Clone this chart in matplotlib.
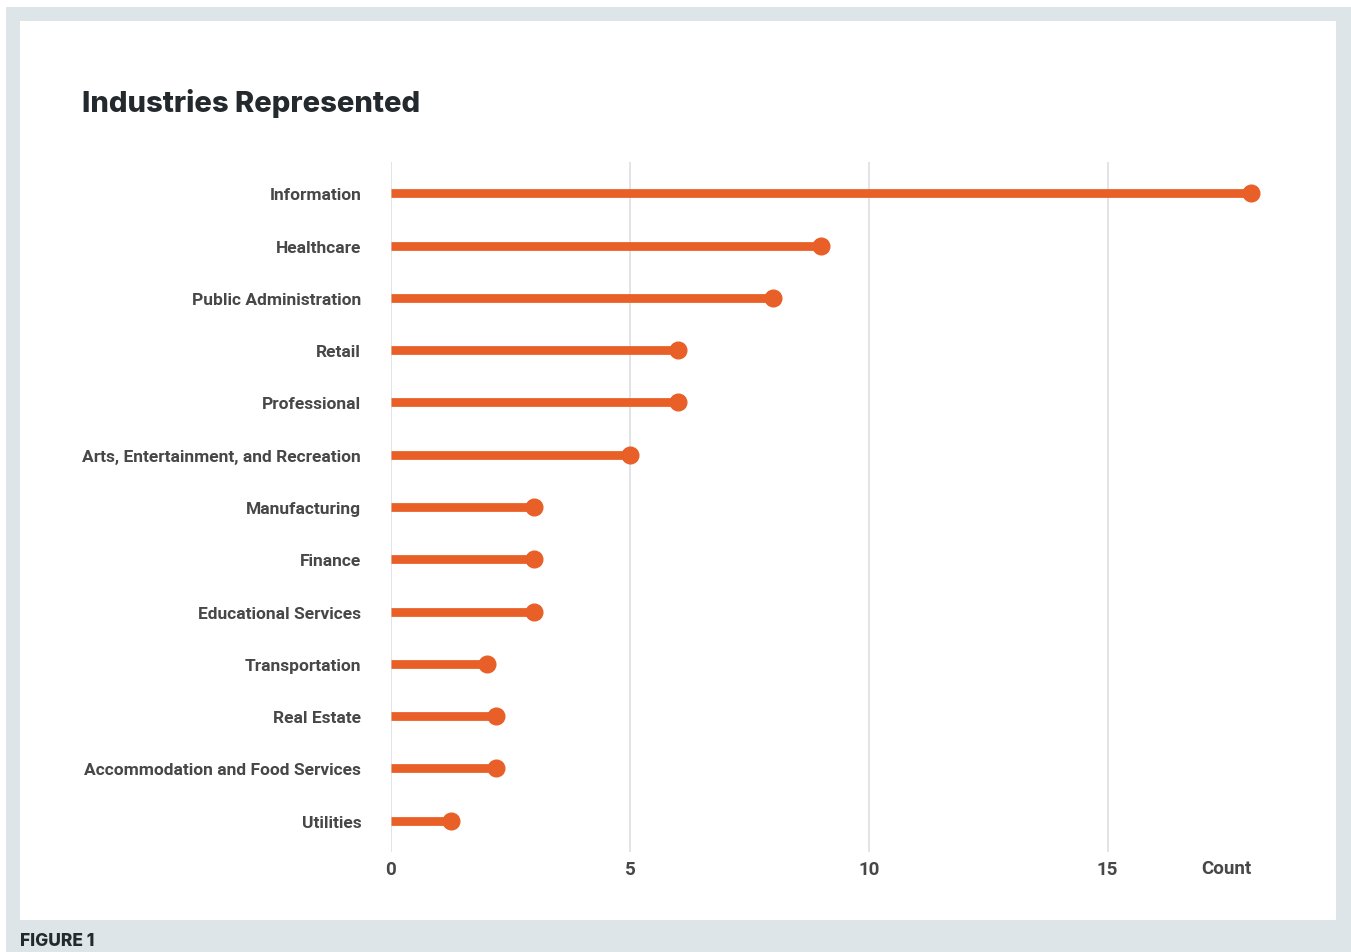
import matplotlib.pyplot as plt
from matplotlib.patches import Rectangle

industries = [
    'Information', 'Healthcare', 'Public Administration', 'Retail', 'Professional',
    'Arts, Entertainment, and Recreation', 'Manufacturing', 'Finance',
    'Educational Services', 'Transportation', 'Real Estate',
    'Accommodation and Food Services', 'Utilities',
]
counts = [18, 9, 8, 6, 6, 5, 3, 3, 3, 2, 2.2, 2.2, 1.25]
x_ticks = [0, 5, 10, 15]

W, H = 1351, 953
orange = '#e85f27'
frame = '#dee5e8'
label_col = '#474747'

fig = plt.figure(figsize=(W / 100, H / 100), dpi=100)
fig.patch.set_facecolor('white')

# outer grey frame and white panel, in pixel units
def px_rect(x0, y0, x1, y1, color):
    fig.patches.append(Rectangle((x0 / W, 1 - y1 / H), (x1 - x0) / W, (y1 - y0) / H,
                                 transform=fig.transFigure, facecolor=color,
                                 edgecolor='none', zorder=-10))

px_rect(6, 8, W, H, frame)
px_rect(20, 22, 1336, 921, 'white')

ax = fig.add_axes([391 / W, 1 - 853 / H, (1251 - 391) / W, (853 - 163) / H])
ax.set_facecolor('none')

y = list(range(len(industries)))
ax.hlines(y, 0, counts, color=orange, linewidth=6.3, zorder=3, clip_on=False)
ax.plot(counts, y, 'o', color=orange, markersize=12, zorder=4, clip_on=False)

ax.set_xlim(0, 18)
ax.set_ylim(len(industries) - 0.4, -0.6)
ax.set_xticks(x_ticks)
ax.set_yticks(y)
ax.set_yticklabels(industries)
ax.grid(axis='x', color='#dfe3e6', linewidth=1.3)
ax.set_axisbelow(True)
for s in ax.spines.values():
    s.set_visible(False)
ax.tick_params(length=0)
ax.tick_params(axis='y', pad=21.5)
ax.tick_params(axis='x', pad=6)
for lab in ax.get_yticklabels():
    lab.set_fontfamily('Roboto')
    lab.set_fontweight('bold')
    lab.set_fontsize(12.5)
    lab.set_color(label_col)
for lab in ax.get_xticklabels():
    lab.set_fontfamily('Roboto')
    lab.set_fontweight('bold')
    lab.set_fontsize(13.5)
    lab.set_color(label_col)

fig.text(1251 / W, 1 - 869 / H, 'Count', ha='right', va='center',
         fontfamily='Roboto', fontweight='bold', fontsize=13.5, color=label_col)

fig.text(82 / W, 1 - 103 / H, 'Industries Represented', ha='left', va='center',
         fontfamily='Inter', fontweight='heavy', fontsize=21, color='#23292c')
fig.text(20 / W, 1 - 942 / H, 'FIGURE 1', ha='left', va='center',
         fontfamily='Inter', fontweight='heavy', fontsize=12.5, color='#23292c')

fig.savefig('out.png', dpi=100)
